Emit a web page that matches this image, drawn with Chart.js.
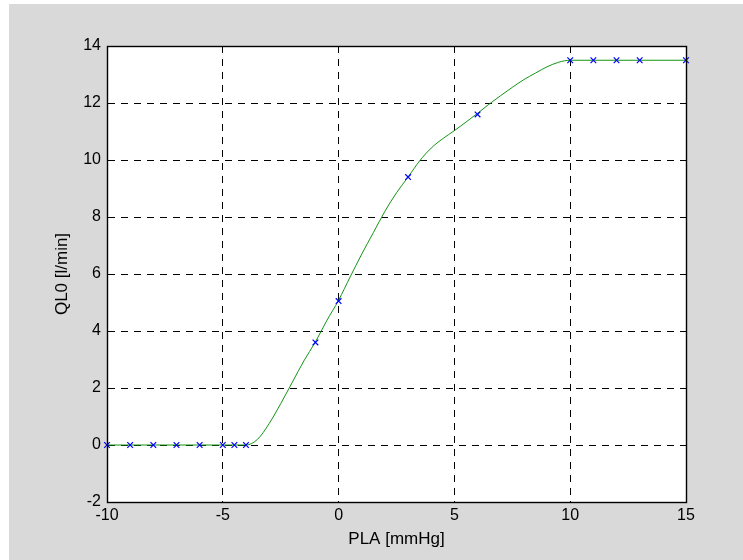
<!DOCTYPE html>
<html>
<head>
<meta charset="utf-8">
<script src="https://cdn.jsdelivr.net/npm/chart.js@4/dist/chart.umd.min.js"></script>
<style>
  html, body { margin: 0; padding: 0; background: #fff; }
  #frame { position: absolute; left: 9px; top: 4px; width: 734px; height: 556px; background: #d9d9d9; }
  #plot  { position: absolute; left: 0; top: 0; }
</style>
</head>
<body>
<div id="frame"></div>
<canvas id="plot" width="743" height="560"></canvas>
<script>
// QL0 vs PLA — measured points (x) and fitted curve (green)

const sampleX = [-10, -9, -8, -7, -6, -5, -4.5, -4, -1, 0, 3, 6, 10, 11, 12, 13, 15];
const sampleY = [0, 0, 0, 0, 0, 0, 0, 0, 3.6, 5.05, 9.4, 11.6, 13.5, 13.5, 13.5, 13.5, 13.5];

const curveX = [-10, -4, -3.5, -3, -2.5, -2, -1.5, -1, -0.5, 0, 0.5, 1, 1.5, 2, 2.5, 3, 3.5,
                4, 4.5, 5, 5.5, 6, 6.5, 7, 7.5, 8, 8.5, 9, 9.5, 10, 15];
const curveY = [0, 0, 0.2, 0.75, 1.45, 2.2, 2.95, 3.62, 4.38, 5.08, 5.9, 6.7, 7.45, 8.2, 8.85, 9.4, 9.97,
                10.42, 10.75, 11.03, 11.33, 11.64, 11.96, 12.26, 12.55, 12.82, 13.05, 13.27, 13.43, 13.5, 13.5];

const xTicks = [-10, -5, 0, 5, 10, 15];
const yTicks = [-2, 0, 2, 4, 6, 8, 10, 12, 14];

const AREA = { left: 107, top: 46, right: 686, bottom: 502 };

Chart.defaults.font.family = "'Liberation Sans', Arial, sans-serif";
Chart.defaults.color = "#000";

// closed box round the axes
const boxPlugin = {
  id: "box",
  afterDraw(chart) {
    const { ctx, chartArea: a } = chart;
    ctx.save();
    ctx.strokeStyle = "#000";
    ctx.lineWidth = 1.4;
    ctx.strokeRect(Math.round(a.left) + 0.5, Math.round(a.top) + 0.5,
                   Math.round(a.right - a.left), Math.round(a.bottom - a.top));
    ctx.restore();
  },
};

// white axes background
const bgPlugin = {
  id: "areaBg",
  beforeDraw(chart) {
    const { ctx, chartArea: a } = chart;
    ctx.save();
    ctx.fillStyle = "#fff";
    ctx.fillRect(a.left, a.top, a.right - a.left, a.bottom - a.top);
    ctx.restore();
  },
};

const toPts = (xs, ys) => xs.map((x, i) => ({ x, y: ys[i] }));

new Chart(document.getElementById("plot").getContext("2d"), {
  type: "scatter",
  data: {
    datasets: [
      {
        data: toPts(curveX, curveY),
        showLine: true,
        borderColor: "#129612",
        borderWidth: 1,
        pointRadius: 0,
        cubicInterpolationMode: "monotone",
        order: 2,
      },
      {
        data: toPts(sampleX, sampleY),
        showLine: false,
        pointStyle: "crossRot",
        pointRadius: 4,
        borderColor: "#0000ff",
        backgroundColor: "#0000ff",
        borderWidth: 1.2,
        order: 1,
      },
    ],
  },
  options: {
    responsive: false,
    animation: false,
    clip: false,
    layout: { padding: { left: 0, top: AREA.top, right: 743 - AREA.right, bottom: 0 } },
    plugins: { legend: { display: false }, tooltip: { enabled: false } },
    scales: {
      x: {
        type: "linear",
        min: -10, max: 15,
        afterBuildTicks: s => { s.ticks = xTicks.map(v => ({ value: v })); },
        afterFit: s => { s.height = 560 - AREA.bottom; },
        ticks: { padding: 4, font: { size: 16 }, color: "#000" },
        grid: { color: "#000", lineWidth: 1, drawTicks: false },
        border: { display: true, color: "#000", width: 1, dash: [7, 6] },
        title: { display: true, text: "PLA [mmHg]", font: { size: 17 }, color: "#000", padding: { top: 0, bottom: 10 } },
      },
      y: {
        type: "linear",
        min: -2, max: 14,
        afterBuildTicks: s => { s.ticks = yTicks.map(v => ({ value: v })); },
        afterFit: s => { s.width = AREA.left; },
        ticks: { padding: 6, font: { size: 16 }, color: "#000" },
        grid: { color: "#000", lineWidth: 1, drawTicks: false },
        border: { display: true, color: "#000", width: 1, dash: [7, 6] },
        title: { display: true, text: "QL0 [l/min]", font: { size: 17 }, color: "#000", padding: { top: 52, bottom: 0 } },
      },
    },
  },
  plugins: [bgPlugin, boxPlugin],
});
</script>
</body>
</html>
